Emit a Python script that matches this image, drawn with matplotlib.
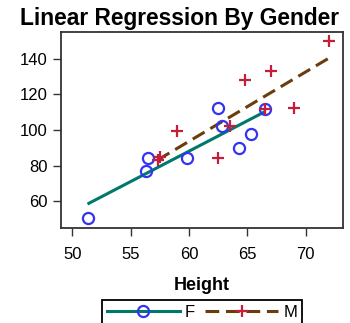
import numpy as np
import matplotlib
matplotlib.use("Agg")
import matplotlib.pyplot as plt
from matplotlib.lines import Line2D

plt.rcParams["font.family"] = ["Liberation Sans", "DejaVu Sans"]

# SASHELP.CLASS style data: height / weight by sex
f_height = [56.5, 65.3, 62.8, 59.8, 62.5, 51.3, 64.3, 56.3, 66.5]
f_weight = [84.0, 98.0, 102.5, 84.5, 112.5, 50.5, 90.0, 77.0, 112.0]
m_height = [69.0, 63.5, 57.3, 62.5, 59.0, 72.0, 64.8, 67.0, 57.5, 66.5]
m_weight = [112.5, 102.5, 83.0, 84.0, 99.5, 150.0, 128.0, 133.0, 85.0, 112.0]

x_ticks = [50, 55, 60, 65, 70]
y_ticks = [60, 80, 100, 120, 140]

F_LINE, F_MARK = "#00786C", "#3434F0"
M_LINE, M_MARK = "#6B3C0C", "#C41E3A"

fig = plt.figure(figsize=(3.5, 3.23), dpi=100)
ax = fig.add_axes([61 / 350, 1 - 228 / 323, 282 / 350, 196 / 323])


def fit_line(x, y):
    x = np.asarray(x); y = np.asarray(y)
    b, a = np.polyfit(x, y, 1)
    xs = np.array([x.min(), x.max()])
    return xs, a + b * xs


fx, fy = fit_line(f_height, f_weight)
mx, my = fit_line(m_height, m_weight)
ax.plot(fx, fy, color=F_LINE, lw=2.2, solid_capstyle="butt", zorder=2)
ax.plot(mx, my, color=M_LINE, lw=2.2, dashes=(4.5, 2.2), zorder=2)
ax.plot(f_height, f_weight, ls="none", marker="o", ms=8, mfc="none",
        mec=F_MARK, mew=1.6, zorder=3)
ax.plot(m_height, m_weight, ls="none", marker="+", ms=8.5, mec=M_MARK,
        mew=1.6, zorder=3)

ax.set_xlim(49.03, 73.18)
ax.set_ylim(44.8, 155.2)
ax.set_xticks(x_ticks)
ax.set_yticks(y_ticks)
ax.tick_params(labelsize=12, length=5.5, width=1, color="#333333", pad=4)
ax.tick_params(axis="x", pad=8)
for s in ax.spines.values():
    s.set_color("#333333"); s.set_linewidth(1.3)

ax.set_xlabel("Height", fontsize=13, fontweight="bold", labelpad=11)
fig.text(179 / 350, 1 - 25 / 323, "Linear Regression By Gender", ha="center",
         va="baseline", fontsize=16.4, fontweight="bold")

handles = [
    Line2D([], [], color=F_LINE, lw=2.2, marker="o", ms=8, mfc="none",
           mec=F_MARK, mew=1.6),
    Line2D([], [], color=M_LINE, lw=2.2, dashes=(4.5, 2.2), marker="+", ms=8.5,
           mec=M_MARK, mew=1.6),
]
leg = fig.legend(handles, ["F", "M"], loc="upper center", ncol=2,
                 bbox_to_anchor=(202 / 350, 1 - 300 / 323), fontsize=12,
                 numpoints=1, handlelength=4.4, handletextpad=0.3,
                 columnspacing=0.6, borderaxespad=0, borderpad=0.3,
                 fancybox=False, framealpha=1, edgecolor="black")
leg.get_frame().set_linewidth(1.3)

fig.savefig("out.png", dpi=100)
